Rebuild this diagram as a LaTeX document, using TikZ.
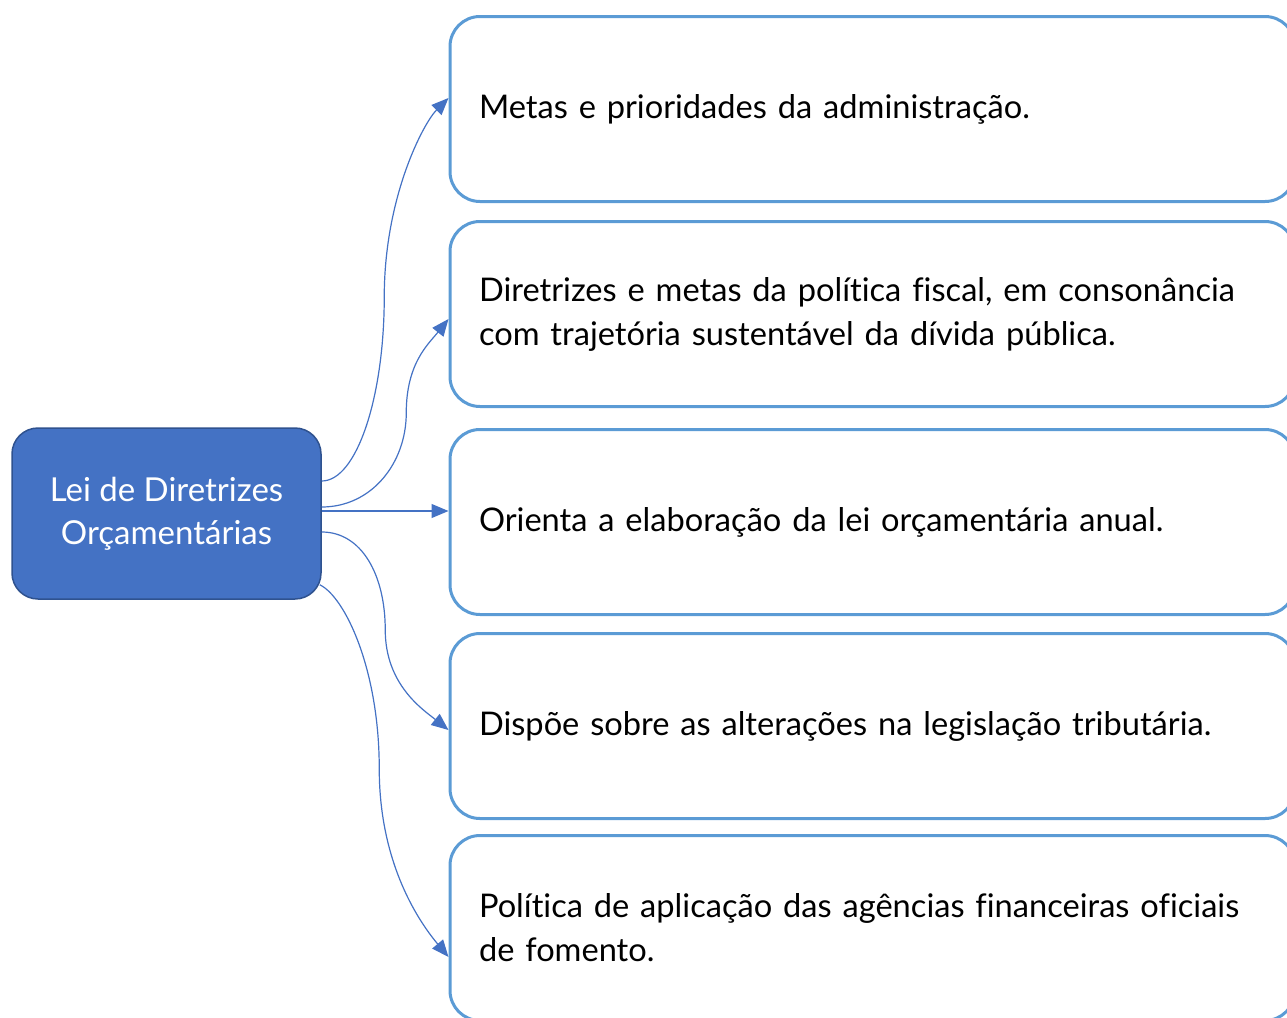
\documentclass[tikz,border=0pt]{standalone}
\usepackage{fontspec}
\setmainfont[Ligatures=NoCommon]{Lato}
\usepackage{tikz}
\usetikzlibrary{arrows.meta,positioning,calc}
\definecolor{ldblue}{RGB}{68,114,196}
\definecolor{lddarkblue}{RGB}{47,82,143}
\definecolor{ldlightblue}{RGB}{91,155,213}
\tikzstyle{mainbox} = [rectangle, rounded corners=26pt, minimum width=309pt, minimum height=171pt, align=center, draw=lddarkblue, fill=ldblue, line width=1.5pt, text=white, font=\fontsize{33}{43}\selectfont]
\tikzstyle{itembox} = [rectangle, rounded corners=30pt, minimum height=185pt, text width=787pt, inner xsep=29pt, align=left, draw=ldlightblue, line width=3pt, font=\fontsize{32.6}{44}\selectfont]
\tikzstyle{arrow} = [line width=1.2pt, -{Triangle[length=17pt,width=14pt]}, color=ldblue]

\begin{document}
\begin{tikzpicture}[x=1pt, y=1pt]
\useasboundingbox (0,0) rectangle (1287,-1017);
\clip (0,0) rectangle (1287,-1017);
\node (lei) [mainbox] at (166.5,-513.5) {Lei de Diretrizes\\Orçamentárias};
\node (goal1) [itembox, anchor=west] at (448.5,-109) {Metas e prioridades da administração.};
\node (goal2) [itembox, below=17pt of goal1] {Diretrizes e metas da política fiscal, em consonância\\com trajetória sustentável da dívida pública.};
\node (goal3) [itembox, below=20pt of goal2] {Orienta a elaboração da lei orçamentária anual.};
\node (goal4) [itembox, below=16pt of goal3] {Dispõe sobre as alterações na legislação tributária.};
\node (goal5) [itembox, below=14pt of goal4] {Política de aplicação das agências financeiras oficiais\\de fomento.};
\draw[arrow] ($(lei.east)+(0,32.5)$) .. controls +(35,0) and +(0,-100) .. ++(62.5,184) .. controls +(0,100) and +(-25,-25) .. ($(goal1.west)+(0,11)$);
\draw[arrow] ($(lei.east)+(0,6.5)$) .. controls +(50,0) and +(0,-50) .. ++(84.5,94) .. controls +(0,50) and +(-20,-25) .. ($(goal2.west)+(0,-5)$);
\draw[arrow] ($(lei.east)+(0,2.5)$) -- ($(goal3.west)+(0,11)$);
\draw[arrow] ($(lei.east)+(0,-18.5)$) .. controls +(40,0) and +(0,55) .. ++(63.5,-98) .. controls +(0,-55) and +(-25,20) .. ($(goal4.west)+(0,-4)$);
\draw[arrow] ($(lei.south east)+(-2,15)$) .. controls +(25,-12) and +(0,100) .. ++(59.5,-184) .. controls +(0,-100) and +(-25,30) .. ($(goal5.west)+(0,-29)$);
\end{tikzpicture}
\end{document}
